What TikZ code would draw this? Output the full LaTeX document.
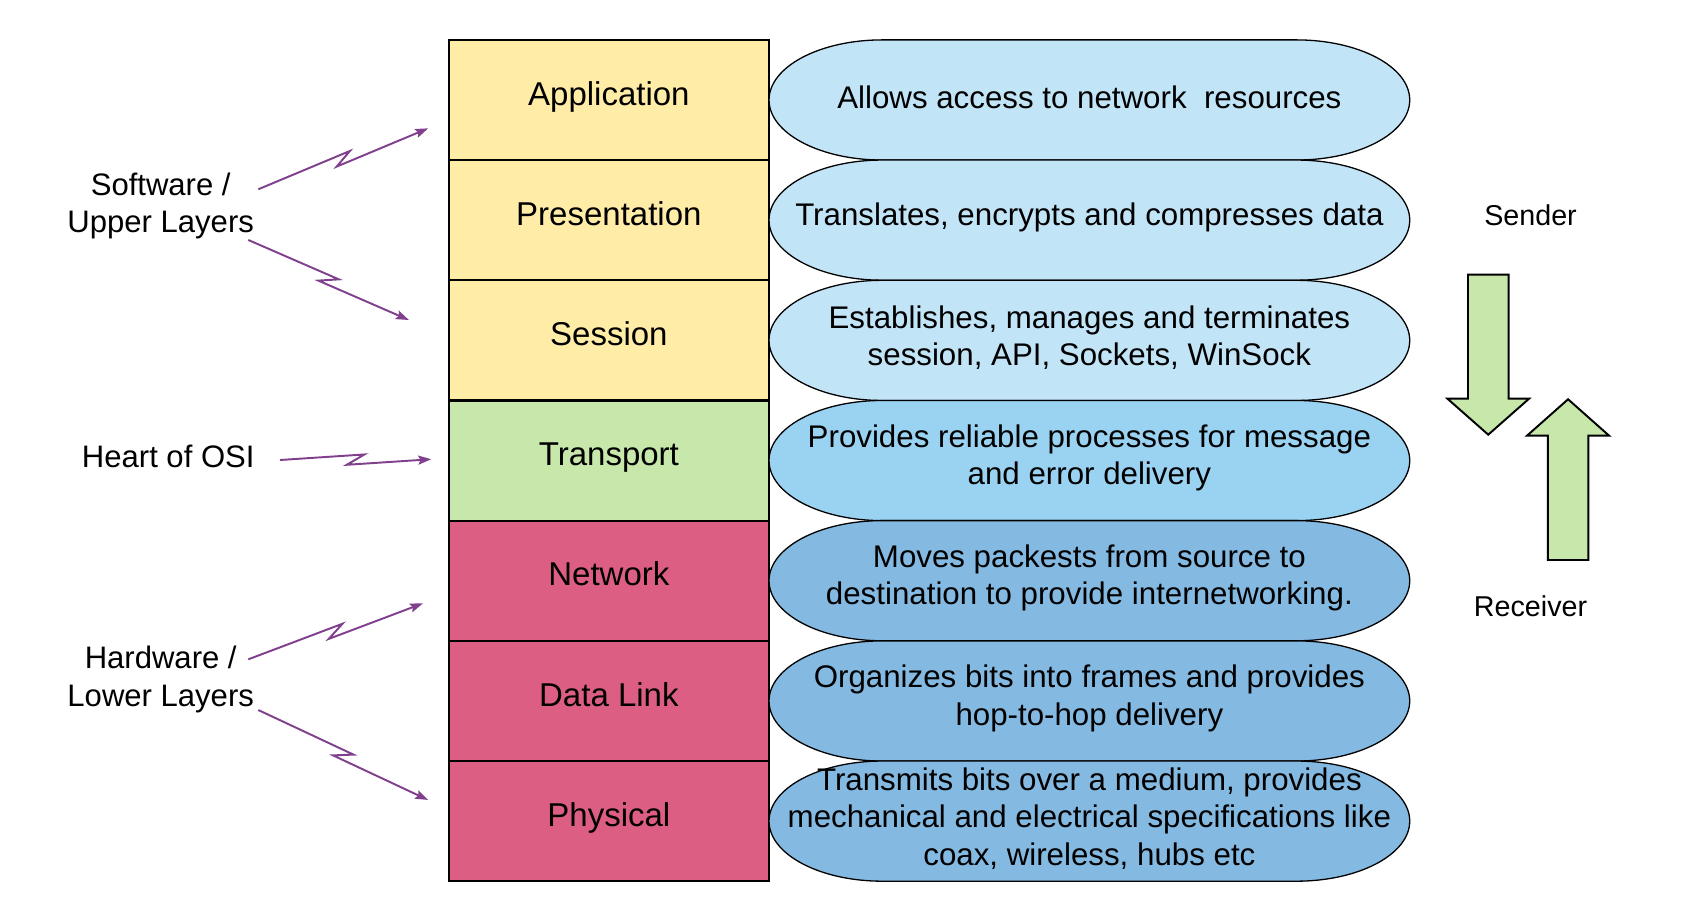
\documentclass[tikz,border=0pt]{standalone}
\usepackage{fontspec}
\setmainfont{Liberation Sans}
\usetikzlibrary{arrows.meta,calc}
\definecolor{layeryellow}{RGB}{254,236,167}
\definecolor{layergreen}{RGB}{199,231,171}
\definecolor{layerred}{RGB}{221,94,131}
\definecolor{descpale}{RGB}{194,228,247}
\definecolor{descmid}{RGB}{154,210,242}
\definecolor{descdark}{RGB}{132,185,226}
\definecolor{boltpurple}{RGB}{128,64,142}
\tikzstyle{layer} = [rectangle, draw=black, line width=1pt, minimum width=148.5pt, minimum height=55.7pt, inner sep=0pt,
  text height=10.5pt, text depth=5.6pt, font=\fontsize{15.3}{18}\selectfont]
\tikzstyle{desc} = [align=center, inner sep=0pt, yshift=1.3pt, font=\fontsize{14.5}{17.4}\selectfont]
\tikzstyle{side} = [align=center, inner sep=0pt, font=\fontsize{14.4}{17.5}\selectfont]
\tikzstyle{role} = [inner sep=0pt, font=\fontsize{13.3}{16}\selectfont]
\tikzstyle{capsule} = [draw=black, line width=0.6pt]
\tikzstyle{bigarrow} = [draw=black, line width=0.9pt, fill=layergreen]
\tikzstyle{bolt} = [draw=boltpurple, line width=0.9pt, -{Stealth[length=6pt, width=4.2pt, inset=1pt]},
  to path={-- ($(\tikztostart)!0.5!(\tikztotarget)!4.75pt!30:(\tikztotarget)$)
           -- ($(\tikztostart)!0.5!(\tikztotarget)!4.75pt!-150:(\tikztotarget)$)
           -- (\tikztotarget) \tikztonodes}]
% #1 = y of the centre, #2 = fill colour
\newcommand{\capsule}[2]{%
  \filldraw [capsule, fill=#2] (818, #1+55.7) -- (1202, #1+55.7)
    arc [start angle=90, end angle=-90, x radius=52.5pt, y radius=27.85pt]
    -- (818, #1-55.7)
    arc [start angle=270, end angle=90, x radius=52.5pt, y radius=27.85pt] -- cycle;}

\begin{document}
\begin{tikzpicture}[x=0.5pt, y=0.5pt]
    \useasboundingbox (0, 0) rectangle (1565, 854);
    % The seven layers.
    \node [layer, fill=layeryellow] (app)   at (564.5, 761.3) {Application};
    \node [layer, fill=layeryellow] (pres)  at (564.5, 649.9) {Presentation};
    \node [layer, fill=layeryellow] (sess)  at (564.5, 538.4) {Session};
    \node [layer, fill=layergreen]  (trans) at (564.5, 427.0) {Transport};
    \node [layer, fill=layerred]    (net)   at (564.5, 315.6) {Network};
    \node [layer, fill=layerred]    (link)  at (564.5, 204.1) {Data Link};
    \node [layer, fill=layerred]    (phys)  at (564.5,  92.7) {Physical};
    % What each layer does.
    \capsule{761.3}{descpale}
    \capsule{649.9}{descpale}
    \capsule{538.4}{descpale}
    \capsule{427.0}{descmid}
    \capsule{315.6}{descdark}
    \capsule{204.1}{descdark}
    \capsule{92.7}{descdark}
    \node [desc] (app-d)   at (1010, 761.3) {Allows access to network~ resources};
    \node [desc] (pres-d)  at (1010, 649.9) {Translates, encrypts and compresses data};
    \node [desc] (sess-d)  at (1010, 538.4) {Establishes, manages and terminates\\session, API, Sockets, WinSock};
    \node [desc] (trans-d) at (1010, 427.0) {Provides reliable processes for message\\and error delivery};
    \node [desc] (net-d)   at (1010, 315.6) {Moves packests from source to\\destination to provide internetworking.};
    \node [desc] (link-d)  at (1010, 204.1) {Organizes bits into frames and provides\\hop-to-hop delivery};
    \node [desc] (phys-d)  at (1010,  92.7) {Transmits bits over a medium, provides\\mechanical and electrical specifications like\\coax, wireless, hubs etc};
    % Groups on the left.
    \node [side] (soft)  at (149, 663) {Software /\\Upper Layers};
    \node [side] (heart) at (156, 430.5) {Heart of OSI};
    \node [side] (hard)  at (149, 224) {Hardware /\\Lower Layers};
    \coordinate (soft-a)  at (239.5, 678.5);
    \coordinate (soft-b)  at (230.2, 631.5);
    \coordinate (heart-a) at (259.6, 427.5);
    \coordinate (hard-a)  at (230.2, 242.7);
    \coordinate (hard-b)  at (239.5, 195.7);
    \coordinate (app-in)   at ($(app.west)+(-18, -26.3)$);
    \coordinate (sess-in)  at ($(sess.west)+(-35.9, 18.9)$);
    \coordinate (trans-in) at ($(trans.west)+(-15.2, 1.2)$);
    \coordinate (net-in)   at ($(net.west)+(-22.9, -21)$);
    \coordinate (phys-in)  at ($(phys.west)+(-18, 19.6)$);
    \path [bolt] (soft-a) to (app-in);
    \path [bolt] (soft-b) to (sess-in);
    \path [bolt] (heart-a) to (trans-in);
    \path [bolt] (hard-a) to (net-in);
    \path [bolt] (hard-b) to (phys-in);
    % Sender down, receiver up.
    \node [role] (send) at (1419, 654) {Sender};
    \node [role] (recv) at (1419, 292) {Receiver};
    \draw [bigarrow, shift={(1379.8, 599.3)}] (-18.8, 0) -- (18.8, 0) -- (18.8, -114.9) -- (37.9, -114.9)
        -- (0, -148.3) -- (-37.9, -114.9) -- (-18.8, -114.9) -- cycle;
    \draw [bigarrow, shift={(1453.8, 334.8)}] (-18.8, 0) -- (18.8, 0) -- (18.8, 115.3) -- (38, 115.3)
        -- (0, 149) -- (-38, 115.3) -- (-18.8, 115.3) -- cycle;
\end{tikzpicture}
\end{document}
